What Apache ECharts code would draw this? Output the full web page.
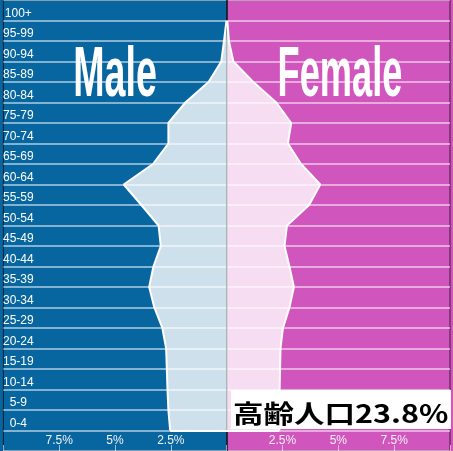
<!DOCTYPE html>
<html>
<head>
    <meta charset="utf-8">
    <title>人口ピラミッド</title>
    <script src="https://cdn.jsdelivr.net/npm/echarts@6/dist/echarts.min.js"></script>
    <style>
        html, body { margin: 0; padding: 0; }
        #pyramid {
            width: 453px; height: 451px;
            background: linear-gradient(to right, #0766a0 0, #0766a0 227px, #d056bd 227px, #d056bd 100%);
        }
    </style>
</head>
<body>
    <div id="pyramid"></div>
    <script type="text/javascript">
        // 年齢階級（下から）
        var ageGroups = ['0-4', '5-9', '10-14', '15-19', '20-24', '25-29', '30-34', '35-39', '40-44', '45-49',
            '50-54', '55-59', '60-64', '65-69', '70-74', '75-79', '80-84', '85-89', '90-94', '95-99', '100+'];
        // 人口割合 (%)
        var male = [2.53, 2.61, 2.65, 2.68, 2.71, 2.88, 3.24, 3.47, 3.28, 2.95,
            3.05, 3.82, 4.61, 3.30, 2.61, 2.61, 1.85, 0.81, 0.24, 0.12, 0.01];
        var female = [2.36, 2.36, 2.37, 2.39, 2.41, 2.52, 2.81, 3.01, 2.81, 2.59,
            2.70, 3.69, 4.19, 3.33, 2.74, 2.89, 2.22, 1.19, 0.30, 0.10, 0.03];
        var xTickLabels = ['', '7.5%', '5%', '2.5%', '', '2.5%', '5%', '7.5%', ''];
        var elderlyText = '高齢人口23.8%';

        // 点は各階級の下端に置く（一番下の帯は目盛り用）
        var rowLabels = [''].concat(ageGroups);
        var edgeSlots = [];
        for (var i = 0; i <= rowLabels.length; i++) edgeSlots.push(String(i));

        var myChart = echarts.init(document.getElementById('pyramid'));
        var option = {
            animation: false,
            grid: {
                left: 2, right: 1, top: 0, bottom: 0,
                show: true, borderColor: 'rgba(0,0,0,0.7)', borderWidth: 1,
                backgroundColor: 'transparent'
            },
            xAxis: {
                type: 'value', min: -10, max: 10, interval: 2.5,
                axisLine: { show: true, lineStyle: { color: 'rgba(0,0,0,0.7)' } },
                axisTick: { show: true, inside: true, length: 6, lineStyle: { color: 'rgba(255,255,255,0.6)' } },
                axisLabel: {
                    inside: true, margin: 4, color: '#f2f2f2', fontSize: 12,
                    fontFamily: 'Liberation Sans',
                    formatter: function (v) { return xTickLabels[Math.round(v / 2.5) + 4]; }
                },
                splitLine: { show: false }
            },
            yAxis: [{
                type: 'category', data: rowLabels, boundaryGap: true,
                axisLine: { show: false, onZero: false },
                axisTick: { show: false },
                axisLabel: {
                    inside: true, margin: 15, align: 'center', interval: 0,
                    color: '#fff', fontSize: 12, fontFamily: 'Liberation Sans',
                    verticalAlign: 'top', lineHeight: 6
                },
                splitLine: { show: true, interval: 0, lineStyle: { color: 'rgba(255,255,255,0.5)', width: 2 } }
            }, {
                type: 'category', data: edgeSlots, boundaryGap: false,
                axisLine: { show: true, onZero: true, lineStyle: { color: '#111', width: 1.5 } },
                axisTick: { show: false },
                axisLabel: { show: false },
                splitLine: { show: false }
            }],
            series: [{
                name: 'Male', type: 'line', yAxisIndex: 1, silent: true,
                data: [null].concat(male.map(function (v) { return -v; })),
                symbol: 'none',
                lineStyle: { color: '#fff', width: 2 },
                areaStyle: { color: 'rgba(255,255,255,0.8)', opacity: 1 },
                markLine: {
                    silent: true, symbol: 'none', label: { show: false },
                    lineStyle: { color: '#fff', width: 2, type: 'solid' },
                    data: [[{ coord: [-male[0], 1] }, { coord: [female[0], 1] }]]
                }
            }, {
                name: 'Female', type: 'line', yAxisIndex: 1, silent: true,
                data: [null].concat(female),
                symbol: 'none',
                lineStyle: { color: '#fff', width: 2 },
                areaStyle: { color: 'rgba(255,255,255,0.8)', opacity: 1 }
            }],
            graphic: [{
                type: 'text', x: 115, y: 76, scaleX: 0.53, z: 100,
                style: {
                    text: 'Male', fill: '#fff', font: 'bold 71px "Liberation Sans", Arial, sans-serif',
                    align: 'center', verticalAlign: 'middle', textAlign: 'center', textVerticalAlign: 'middle'
                }
            }, {
                type: 'text', x: 340, y: 76, scaleX: 0.51, z: 100,
                style: {
                    text: 'Female', fill: '#fff', font: 'bold 71px "Liberation Sans", Arial, sans-serif',
                    align: 'center', verticalAlign: 'middle', textAlign: 'center', textVerticalAlign: 'middle'
                }
            }, {
                type: 'rect', z: 100,
                shape: { x: 231, y: 390, width: 220, height: 39 },
                style: { fill: '#fff' }
            }, {
                type: 'text', x: 233, y: 413, scaleX: 1.22, z: 101,
                style: {
                    text: elderlyText, fill: '#000', font: 'bold 25px "Noto Sans CJK JP"',
                    align: 'left', verticalAlign: 'middle', textAlign: 'left', textVerticalAlign: 'middle'
                }
            }]
        };
        myChart.setOption(option);
    </script>
</body>
</html>
